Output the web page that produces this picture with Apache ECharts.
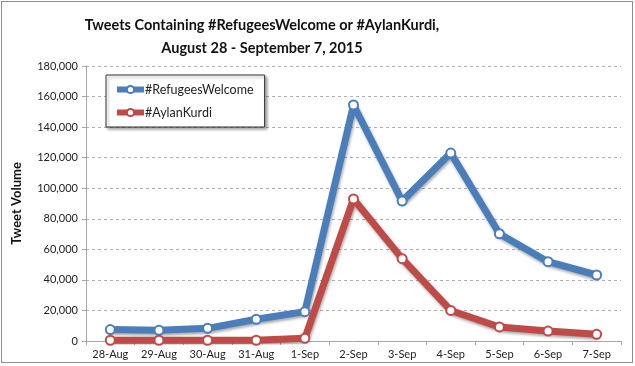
<!DOCTYPE html>
<html>
<head>
<meta charset="utf-8">
<script src="https://cdn.jsdelivr.net/npm/echarts@6/dist/echarts.min.js"></script>
<style>
  html, body { margin: 0; padding: 0; background: #fff; }
  #chart { position: absolute; left: 1px; top: 1px; width: 632px; height: 362px; border: 1px solid #8c8c8c; box-sizing: border-box; }
</style>
</head>
<body>
<div id="chart"></div>
<script>
const categories = ['28-Aug', '29-Aug', '30-Aug', '31-Aug', '1-Sep', '2-Sep', '3-Sep', '4-Sep', '5-Sep', '6-Sep', '7-Sep']
const refugeesWelcome = [7500, 7000, 8300, 14200, 19200, 154500, 91600, 123000, 70200, 51900, 43200]
const aylanKurdi = [500, 500, 500, 500, 1800, 93000, 53900, 20000, 9200, 6500, 4400]
const titleLines = ['Tweets Containing #RefugeesWelcome or #AylanKurdi,', 'August 28 - September 7, 2015']

const chartInstance = echarts.init(document.getElementById('chart'))

const font = 'Lato, "Open Sans", sans-serif'

const makeSeries = (name, data, color) => ({
  name,
  type: 'line',
  data,
  symbol: 'circle',
  symbolSize: 9,
  itemStyle: { color: '#fff', borderColor: color, borderWidth: 2 },
  lineStyle: {
    color,
    width: 7,
    shadowColor: 'rgba(0,0,0,0.35)',
    shadowBlur: 3,
    shadowOffsetX: 1,
    shadowOffsetY: 2
  },
  emphasis: { disabled: true },
  animation: false
})

const option = {
  title: titleLines.map((t, i) => ({
    text: t,
    left: 260,
    top: 16 + i * 23,
    textAlign: 'center',
    padding: 0,
    textStyle: {
      fontFamily: font,
      fontSize: 14.5,
      fontWeight: 'bold',
      color: '#111'
    }
  })),
  legend: {
    data: ['#RefugeesWelcome', '#AylanKurdi'],
    orient: 'vertical',
    left: 104,
    top: 73,
    padding: [8, 11, 8, 8],
    itemGap: 10,
    itemWidth: 27,
    itemHeight: 9,
    borderColor: '#333',
    borderWidth: 1,
    backgroundColor: '#fff',
    shadowColor: 'rgba(0,0,0,0.35)',
    shadowBlur: 3,
    shadowOffsetX: 2,
    shadowOffsetY: 2,
    lineStyle: { width: 6, shadowBlur: 0, shadowOffsetX: 0, shadowOffsetY: 0 },
    textStyle: { fontFamily: font, fontSize: 12.5, color: '#222', padding: [0, 0, 0, -4] }
  },
  grid: {
    left: 84,
    right: 11,
    top: 64,
    bottom: 21
  },
  xAxis: {
    type: 'category',
    data: categories,
    boundaryGap: true,
    axisLine: { lineStyle: { color: '#a6a6a6' } },
    axisTick: { show: true, length: 4, lineStyle: { color: '#a6a6a6' } },
    axisLabel: { fontFamily: font, fontSize: 11, color: '#222', margin: 8 }
  },
  yAxis: {
    type: 'value',
    min: 0,
    max: 180000,
    interval: 20000,
    name: 'Tweet Volume',
    nameLocation: 'middle',
    nameGap: 63,
    nameTextStyle: { fontFamily: font, fontSize: 13, fontWeight: 'bold', color: '#111' },
    axisLine: { show: true, lineStyle: { color: '#a6a6a6' } },
    axisTick: { show: true, length: 4, lineStyle: { color: '#a6a6a6' } },
    axisLabel: {
      fontFamily: font,
      fontSize: 11,
      color: '#222',
      margin: 8,
      formatter: v => v.toLocaleString('en-US')
    },
    splitLine: { lineStyle: { color: '#b0b0b0', type: [3, 3] } }
  },
  series: [
    makeSeries('#RefugeesWelcome', refugeesWelcome, '#4a7ebb'),
    makeSeries('#AylanKurdi', aylanKurdi, '#be4b48')
  ]
}

chartInstance.setOption(option)
</script>
</body>
</html>
